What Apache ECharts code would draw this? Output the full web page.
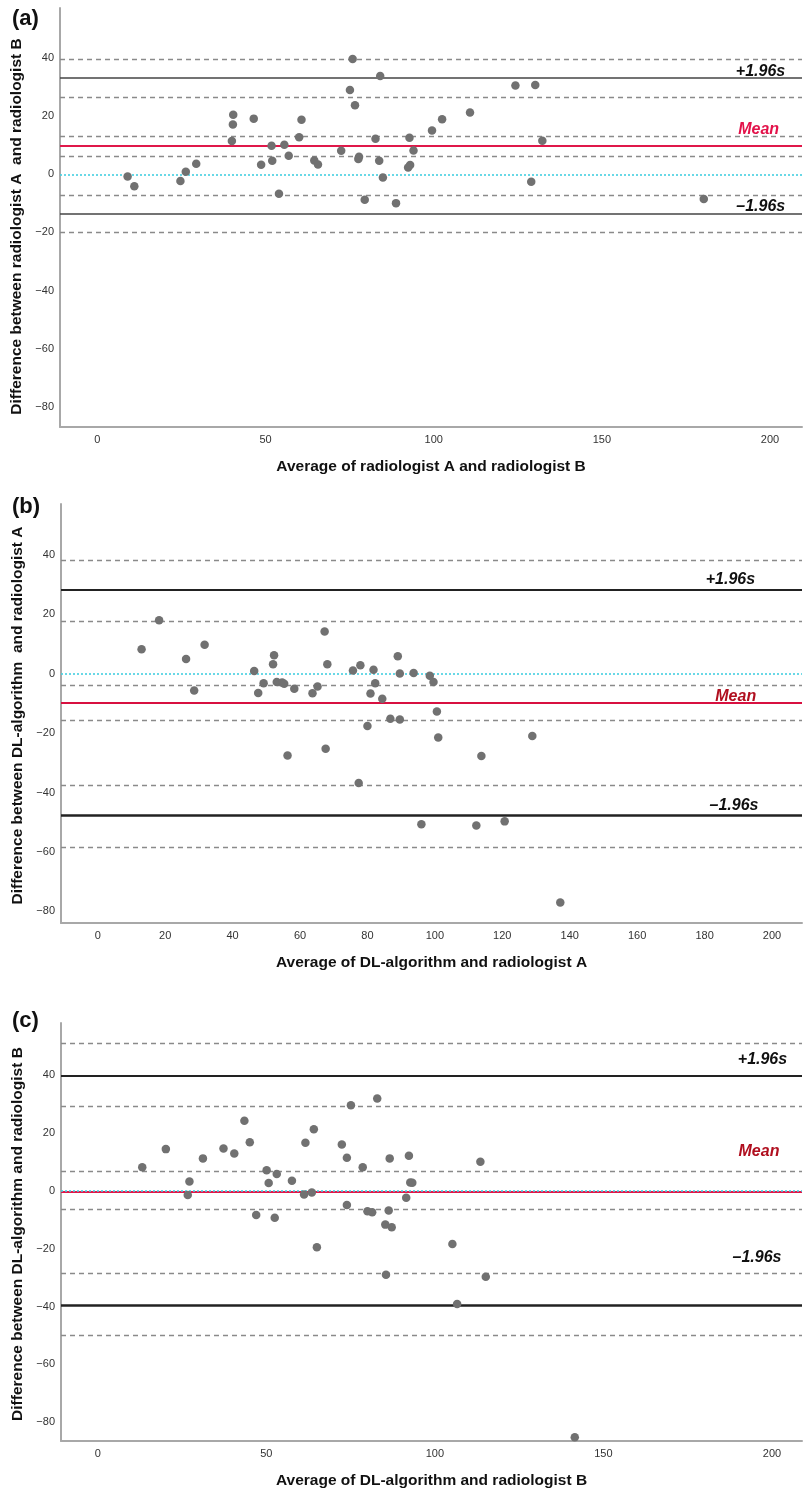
<!DOCTYPE html>
<html>
<head>
<meta charset="utf-8">
<script src="https://cdn.jsdelivr.net/npm/echarts@6/dist/echarts.min.js"></script>
<style>
html,body{margin:0;padding:0;background:#fff;}
#chart{width:803px;height:1493px;}
</style>
</head>
<body>
<div id="chart"></div>
<script>
// ---------- Panel (a): radiologist A vs radiologist B ----------
const avgA = [9.0, 11.0, 24.7, 26.3, 29.4, 40.4, 40.3, 40.0, 46.5, 48.7, 51.8, 52.0, 54.0, 55.6, 56.9, 60.0, 60.7, 64.5, 65.6, 72.5, 75.1, 75.9, 76.6, 77.8, 77.6, 79.5, 82.7, 84.1, 83.8, 84.9, 88.8, 92.8, 94.0, 93.0, 92.4, 99.5, 102.5, 110.8, 124.3, 130.2, 132.3, 129.0, 180.3];
const diffA = [-0.7, -4.1, -2.3, 0.9, 3.7, 20.5, 17.2, 11.5, 19.2, 3.3, 9.9, 4.7, -6.7, 10.2, 6.4, 12.8, 18.8, 4.8, 3.4, 8.1, 29.1, 39.7, 23.8, 6.1, 5.3, -8.7, 12.3, 33.9, 4.7, -1.1, -9.9, 12.6, 8.2, 3.2, 2.4, 15.1, 19.0, 21.3, 30.6, 30.8, 11.6, -2.5, -8.5];
const statsA = { mean: 9.8, upper: 33.3, lower: -13.6 };
const ciA = [39.8, 26.7, 13.0, 6.2, -7.2, -20.0];

// ---------- Panel (b): DL-algorithm vs radiologist A ----------
const avgB = [13.0, 18.2, 26.2, 28.6, 31.7, 46.4, 47.6, 49.2, 52.3, 52.0, 53.1, 54.7, 55.3, 58.3, 63.7, 65.2, 67.3, 68.1, 75.7, 77.9, 80.0, 80.9, 81.8, 82.3, 84.4, 86.8, 89.0, 89.6, 89.6, 93.7, 98.5, 99.6, 100.6, 101.0, 128.9, 56.3, 67.6, 77.4, 113.8, 96.0, 112.3, 120.7, 137.2];
const diffB = [8.2, 18.0, 4.9, -5.7, 9.7, 0.9, -6.5, -3.2, 6.2, 3.2, -2.8, -3.0, -3.4, -5.1, -6.6, -4.3, 14.2, 3.2, 1.1, 2.8, -17.6, -6.7, 1.3, -3.2, -8.4, -15.2, 5.9, 0.1, -15.4, 0.2, -0.7, -2.8, -12.7, -21.5, -21.0, -27.5, -25.3, -36.8, -27.7, -50.7, -51.1, -49.7, -77.0];
const statsB = { mean: -9.8, upper: 28.2, lower: -47.8 };
const ciB = [38.2, 17.7, -3.9, -15.7, -37.5, -58.3];

// ---------- Panel (c): DL-algorithm vs radiologist B ----------
const avgC = [13.2, 20.2, 27.2, 26.7, 31.2, 37.3, 40.5, 43.5, 45.1, 47.0, 50.1, 50.7, 53.1, 52.5, 57.6, 61.2, 61.6, 63.5, 64.1, 72.4, 73.9, 73.9, 75.1, 78.6, 80.0, 81.4, 82.9, 86.3, 86.6, 85.3, 87.2, 92.3, 92.7, 93.3, 91.5, 113.5, 65.0, 85.5, 105.2, 115.1, 106.6, 141.5];
const diffC = [8.1, 14.4, 3.2, -1.5, 11.2, 14.6, 12.9, 24.2, 16.8, -8.4, 7.1, 2.7, 5.8, -9.3, 3.5, -1.3, 16.6, -0.6, 21.3, 16.0, 11.4, -4.9, 29.6, 8.1, -7.1, -7.4, 31.9, -6.8, 11.2, -11.7, -12.6, 12.1, 2.9, 2.8, -2.4, 10.0, -19.5, -29.0, -18.4, -29.7, -39.1, -85.2];
const statsC = { mean: -0.5, upper: 39.6, lower: -39.4 };
const ciC = [50.9, 29.2, 6.8, -6.3, -28.5, -50.1];

// tick labels
const yTicks = [-80, -60, -40, -20, 0, 20, 40];
const xTicksA = [0, 50, 100, 150, 200];
const xTicksB = [0, 20, 40, 60, 80, 100, 120, 140, 160, 180, 200];
const xTicksC = [0, 50, 100, 150, 200];

const panels = [
  { tag: '(a)', avg: avgA, diff: diffA, st: statsA, ci: ciA, xt: xTicksA,
    xName: 'Average of radiologist A and radiologist B',
    yName: 'Difference between radiologist A  and radiologist B', yPad: [0, 18, 0, 0],
    grid: { left: 60, top: 8, width: 742, height: 419 },
    xr: [-11.1, 209.5], yr: [-87, 57.3],
    meanColor: '#e3124a', lineRed: '#e0184a', upW: 1.5, loW: 1.5, limColor: '#444',
    lab: { up: [204.5, 35.4], mean: [202.7, 15.4], lo: [204.5, -11.1] },
    tagY: 20 },
  { tag: '(b)', avg: avgB, diff: diffB, st: statsB, ci: ciB, xt: xTicksB,
    xName: 'Average of DL-algorithm and radiologist A',
    yName: 'Difference between DL-algorithm  and radiologist A', yPad: [0, 4, 0, 0],
    grid: { left: 61, top: 504, width: 741, height: 419 },
    xr: [-10.9, 208.9], yr: [-83.9, 57.1],
    meanColor: '#b00f1f', lineRed: '#d81040', upW: 1.8, loW: 2.5, limColor: '#222',
    lab: { up: [195, 31.5], mean: [195.3, -7.8], lo: [196, -44.3] },
    tagY: 508 },
  { tag: '(c)', avg: avgC, diff: diffC, st: statsC, ci: ciC, xt: xTicksC,
    xName: 'Average of DL-algorithm and radiologist B',
    yName: 'Difference between DL-algorithm and radiologist B', yPad: [0, 4, 0, 0],
    grid: { left: 61, top: 1023, width: 741, height: 418 },
    xr: [-10.9, 208.9], yr: [-86.5, 58],
    meanColor: '#b00f1f', lineRed: '#e0184a', upW: 2, loW: 2.5, limColor: '#222',
    lab: { up: [204.5, 45.5], mean: [202.2, 13.7], lo: [202.8, -23.2] },
    tagY: 1022 }
];

const FONT = 'Liberation Sans, Arial, sans-serif';
const grids = [], xAxes = [], yAxes = [], series = [], graphics = [];

panels.forEach((p, i) => {
  grids.push(p.grid);
  xAxes.push({
    gridIndex: i, type: 'value', min: p.xr[0], max: p.xr[1],
    axisLine: { show: true, onZero: false, lineStyle: { color: '#a8a8a8', width: 2 } },
    axisTick: { show: false }, splitLine: { show: false },
    axisLabel: { customValues: p.xt, color: '#333', fontSize: 11, fontFamily: FONT, margin: 7, showMinLabel: true, showMaxLabel: true },
    name: p.xName, nameLocation: 'middle', nameGap: 32,
    nameTextStyle: { color: '#111', fontSize: 15.5, fontWeight: 'bold', fontFamily: FONT }
  });
  yAxes.push({
    gridIndex: i, type: 'value', min: p.yr[0], max: p.yr[1],
    axisLine: { show: true, onZero: false, lineStyle: { color: '#a8a8a8', width: 2 } },
    axisTick: { show: false }, splitLine: { show: false },
    axisLabel: { customValues: yTicks, color: '#333', fontSize: 11, fontFamily: FONT, margin: 6,
      formatter: v => (v < 0 ? '\u2212' + Math.abs(v) : String(v)) },
    name: p.yName, nameLocation: 'middle', nameGap: 35, nameRotate: 90,
    nameTextStyle: { color: '#111', fontSize: 15.5, fontWeight: 'bold', fontFamily: FONT, padding: p.yPad }
  });

  const dashed = p.ci.map(v => ({ yAxis: v, lineStyle: { type: [5, 4], color: '#8a8a8a', width: 1.3 } }));
  series.push({
    type: 'scatter', xAxisIndex: i, yAxisIndex: i, data: [], z: 1, silent: true,
    markLine: {
      silent: true, symbol: 'none', label: { show: false }, animation: false,
      data: dashed.concat([
        { yAxis: p.st.upper, lineStyle: { type: 'solid', color: p.limColor, width: p.upW, opacity: 1 } },
        { yAxis: p.st.lower, lineStyle: { type: 'solid', color: p.limColor, width: p.loW, opacity: 1 } },
        { yAxis: p.st.mean, lineStyle: { type: 'solid', color: p.lineRed, width: 2.2, opacity: 1 } },
        { yAxis: 0, lineStyle: { type: [2, 2], color: '#45cfe0', width: 1.6, opacity: 1 } }
      ])
    }
  });
  series.push({
    type: 'scatter', xAxisIndex: i, yAxisIndex: i, z: 5, animation: false,
    symbolSize: 8.5, itemStyle: { color: '#717171', opacity: 1 },
    data: p.avg.map((x, k) => [x, p.diff[k]])
  });
  const lbl = (pos, text, color) => ({
    value: pos, label: { show: true, formatter: text, position: 'inside', align: 'right', verticalAlign: 'middle',
      color: color, opacity: 1, fontSize: 16, fontWeight: 'bold', fontStyle: 'italic', fontFamily: FONT }
  });
  series.push({
    type: 'scatter', xAxisIndex: i, yAxisIndex: i, z: 6, symbolSize: 1, silent: true, animation: false,
    itemStyle: { opacity: 1, color: 'rgba(0,0,0,0)' },
    data: [lbl(p.lab.up, '+1.96s', '#111'), lbl(p.lab.mean, 'Mean', p.meanColor), lbl(p.lab.lo, '\u20131.96s', '#111')]
  });
  graphics.push({
    type: 'text', left: 12, top: p.tagY - 12,
    style: { text: p.tag, font: 'bold 22px ' + FONT, fill: '#111' }
  });
});

const chart = echarts.init(document.getElementById('chart'), null, { renderer: 'canvas' });
chart.setOption({
  animation: false,
  backgroundColor: '#fff',
  grid: grids, xAxis: xAxes, yAxis: yAxes, series: series, graphic: graphics
});
</script>
</body>
</html>
